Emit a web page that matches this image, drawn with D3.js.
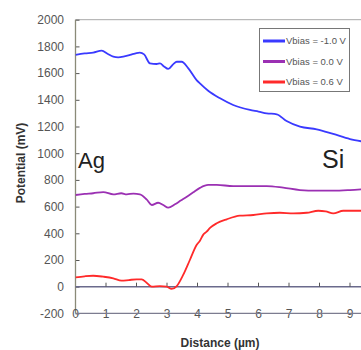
<!DOCTYPE html>
<html>
<head>
<meta charset="utf-8">
<script src="https://cdn.jsdelivr.net/npm/d3@7/dist/d3.min.js"></script>
<style>
  html, body { margin: 0; padding: 0; background: #fff; }
  svg { display: block; }
  text { font-family: "Liberation Sans", Arial, sans-serif; }
</style>
</head>
<body>
<svg id="chart" width="361" height="350"></svg>
<script>
// Surface potential profiles across the Ag / Si junction
const seriesNames = ["Vbias = -1.0 V", "Vbias = 0.0 V", "Vbias = 0.6 V"];
const seriesColors = ["#3a3aff", "#9b30b3", "#ff2a2a"];

const distNeg = [0, 0.3, 0.58, 0.86, 1.05, 1.24, 1.4, 1.6, 1.79, 2.0, 2.11, 2.25, 2.44, 2.66, 2.77, 2.9, 3.04, 3.2, 3.32, 3.48, 3.7, 3.97, 4.08, 4.35, 4.74, 5.17, 5.72, 6.0, 6.27, 6.6, 6.92, 7.36, 7.91, 8.45, 9.0, 9.4];
const potNeg  = [1736, 1748, 1753, 1768, 1745, 1723, 1718, 1725, 1736, 1750, 1753, 1740, 1673, 1668, 1673, 1650, 1631, 1665, 1685, 1685, 1636, 1548, 1523, 1468, 1411, 1361, 1324, 1312, 1299, 1291, 1241, 1199, 1179, 1144, 1106, 1088];

const distZero = [0, 0.3, 0.58, 0.91, 1.24, 1.5, 1.68, 1.9, 2.11, 2.33, 2.5, 2.71, 2.88, 3.04, 3.26, 3.45, 3.65, 3.85, 4.08, 4.35, 4.63, 5.17, 5.72, 6.27, 6.81, 7.36, 7.91, 8.45, 9.0, 9.4];
const potZero  = [687, 695, 700, 709, 692, 700, 692, 697, 692, 654, 612, 629, 612, 592, 617, 645, 674, 705, 740, 762, 762, 754, 754, 754, 742, 724, 719, 719, 724, 730];

const distPos = [0, 0.3, 0.58, 0.91, 1.24, 1.51, 1.75, 2.0, 2.17, 2.33, 2.5, 2.77, 2.99, 3.15, 3.32, 3.53, 3.75, 3.97, 4.08, 4.19, 4.3, 4.41, 4.63, 4.96, 5.39, 5.83, 6.27, 6.7, 7.14, 7.58, 7.96, 8.2, 8.45, 8.78, 9.4];
const potPos  = [70, 78, 82, 75, 63, 45, 50, 55, 55, 30, 0, 5, 0, -17, 5, 88, 200, 312, 345, 390, 412, 440, 475, 505, 532, 537, 549, 554, 549, 554, 569, 565, 549, 569, 569];

const yTicks = [2000, 1800, 1600, 1400, 1200, 1000, 800, 600, 400, 200, 0, -200];
const xTicks = [0, 1, 2, 3, 4, 5, 6, 7, 8, 9];

const svg = d3.select("#chart");
const plotLeft = 75.5, plotTop = 19.7, plotBottom = 313.4;

const x = d3.scaleLinear().domain([0, 10]).range([plotLeft, plotLeft + 305]);
const y = d3.scaleLinear().domain([-200, 2000]).range([plotBottom, plotTop]);

svg.append("defs").append("clipPath").attr("id", "plot")
  .append("rect").attr("x", plotLeft).attr("y", plotTop).attr("width", 361 - plotLeft).attr("height", plotBottom - plotTop);

// top frame line
svg.append("line").attr("x1", plotLeft).attr("x2", 361).attr("y1", plotTop).attr("y2", plotTop)
  .attr("stroke", "#a8a8a8").attr("stroke-width", 1);

// y axis with inward ticks
const yAxis = svg.append("g").attr("transform", `translate(${plotLeft},0)`)
  .call(d3.axisRight(y).tickValues(yTicks).tickSize(4).tickFormat(""));
yAxis.select(".domain").remove();
yAxis.selectAll(".tick line").attr("stroke", "#555").attr("stroke-width", 1);
svg.append("line").attr("x1", plotLeft).attr("x2", plotLeft).attr("y1", plotTop).attr("y2", plotBottom)
  .attr("stroke", "#8a8a78").attr("stroke-width", 1.3);

svg.append("g").selectAll("text").data(yTicks).join("text")
  .attr("x", 64).attr("y", d => y(d)).attr("dy", "0.36em")
  .attr("text-anchor", "end").attr("font-size", 12).attr("fill", "#555")
  .text(d => d);

// x tick labels sit on the bottom axis line
svg.append("g").selectAll("text").data(xTicks).join("text")
  .attr("x", d => x(d)).attr("y", plotBottom).attr("dy", "0.36em")
  .attr("text-anchor", "middle").attr("font-size", 12).attr("fill", "#555")
  .text(d => d);
svg.append("line").attr("x1", plotLeft).attr("x2", 361).attr("y1", plotBottom).attr("y2", plotBottom)
  .attr("stroke", "#7c7c90").attr("stroke-width", 1.3);

// zero reference line with small upward ticks
svg.append("line").attr("x1", plotLeft).attr("x2", 361).attr("y1", y(0)).attr("y2", y(0))
  .attr("stroke", "#6a6a8c").attr("stroke-width", 1.5);
svg.append("g").selectAll("line").data(xTicks.filter(d => d > 0)).join("line")
  .attr("x1", d => x(d)).attr("x2", d => x(d)).attr("y1", y(0)).attr("y2", y(0) - 4)
  .attr("stroke", "#555").attr("stroke-width", 1);

// data lines
const line = d3.line().x(d => x(d[0])).y(d => y(d[1])).curve(d3.curveMonotoneX);
const series = [
  d3.zip(distNeg, potNeg),
  d3.zip(distZero, potZero),
  d3.zip(distPos, potPos)
];
svg.append("g").attr("clip-path", "url(#plot)").selectAll("path").data(series).join("path")
  .attr("d", line).attr("fill", "none")
  .attr("stroke", (d, i) => seriesColors[i]).attr("stroke-width", 1.8)
  .attr("stroke-linejoin", "round");

// material labels
svg.append("text").attr("x", 78).attr("y", 168).attr("font-size", 22).attr("fill", "#222").text("Ag");
svg.append("text").attr("x", 322).attr("y", 168).attr("font-size", 25).attr("fill", "#222").text("Si");

// legend
const lg = svg.append("g");
lg.append("rect").attr("x", 259.5).attr("y", 28.5).attr("width", 90).attr("height", 63)
  .attr("fill", "#fff").attr("stroke", "#777").attr("stroke-width", 1);
const ly = d3.scalePoint().domain(seriesNames).range([41, 82]);
lg.selectAll("line").data(seriesNames).join("line")
  .attr("x1", 263).attr("x2", 285).attr("y1", d => ly(d)).attr("y2", d => ly(d))
  .attr("stroke", (d, i) => seriesColors[i]).attr("stroke-width", 3);
lg.selectAll("text").data(seriesNames).join("text")
  .attr("x", 286).attr("y", d => ly(d)).attr("dy", "0.36em")
  .attr("font-size", 9.5).attr("fill", "#555").text(d => d);

// axis titles
svg.append("text").attr("x", 220).attr("y", 347).attr("text-anchor", "middle")
  .attr("font-size", 12).attr("font-weight", "bold").attr("fill", "#333").text("Distance (µm)");
svg.append("text").attr("transform", "translate(25,163) rotate(-90)").attr("text-anchor", "middle")
  .attr("font-size", 12).attr("font-weight", "bold").attr("fill", "#333").text("Potential (mV)");
</script>
</body>
</html>
